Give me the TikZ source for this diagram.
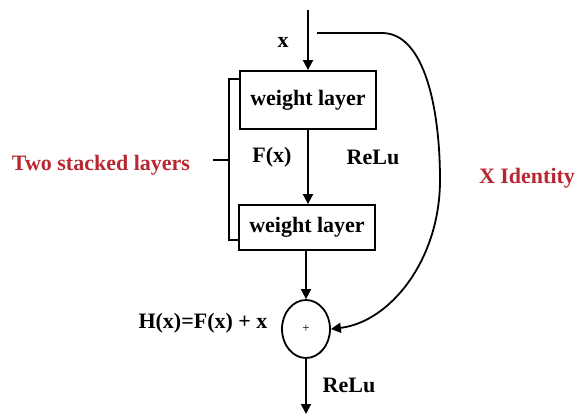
\documentclass[tikz,border=0pt]{standalone}
\usepackage{fontspec}
\setmainfont{Liberation Serif}
\usetikzlibrary{shapes.geometric,arrows.meta}
\definecolor{lblred}{RGB}{185,40,50}
\begin{document}
\begin{tikzpicture}[x=1pt,y=-1pt,
  every node/.style={font=\fontsize{22}{26}\selectfont\bfseries, inner sep=0pt},
  wbox/.style={draw, line width=1.8pt, minimum width=136pt},
  conn/.style={line width=1.8pt, -{Triangle[length=10pt,width=10pt]}},
  plain/.style={line width=1.6pt},
  redlbl/.style={text=lblred}]
\useasboundingbox (0,0) rectangle (578,418);
\node[wbox, minimum height=58pt] (w1) at (308,100) {weight layer};
\node[wbox, minimum height=45pt] (w2) at (307,227.5) {weight layer};
\node[draw, ellipse, line width=1.8pt, minimum width=48pt, minimum height=58pt] (sum) at (306,329) {};
\node[font=\fontsize{13}{15}\selectfont] (plus) at (sum.center) {+};
\coordinate (top) at (308,10);
\coordinate (bot) at (306,414);
\coordinate (ids) at (317,33);
\coordinate (idk) at (382,33);
\node (xl) at (283,42) {x};
\node (fx) at (272,157) {F(x)};
\node (relu1) at (373,157) {ReLu};
\node (relu2) at (349,385) {ReLu};
\node (hx) at (203,323) {H(x)=F(x) + x};
\node[redlbl] (two) at (101,165) {Two stacked layers};
\node[redlbl] (xid) at (527,178) {X Identity};
\coordinate (bt) at (229,79);
\coordinate (bm) at (229,160);
\coordinate (bb) at (229,240);
\coordinate (btick) at (213,160);
\draw[conn] (top) -- (w1.north);
\draw[conn] (w1.south) -- (w1.south |- w2.north);
\draw[conn] (w2.south -| sum.north) -- (sum.north);
\draw[conn] (sum.south) -- (bot);
\draw[plain] (w1.west |- bt) -- (bt) -- (bb) -- (w2.west |- bb);
\draw[plain] (bm) -- (btick);
\draw[conn] (ids) -- (idk) .. controls (425,33) and (440,110) .. (440,180)
  .. controls (440,260) and (390,322) .. (sum.east);
\end{tikzpicture}
\end{document}
